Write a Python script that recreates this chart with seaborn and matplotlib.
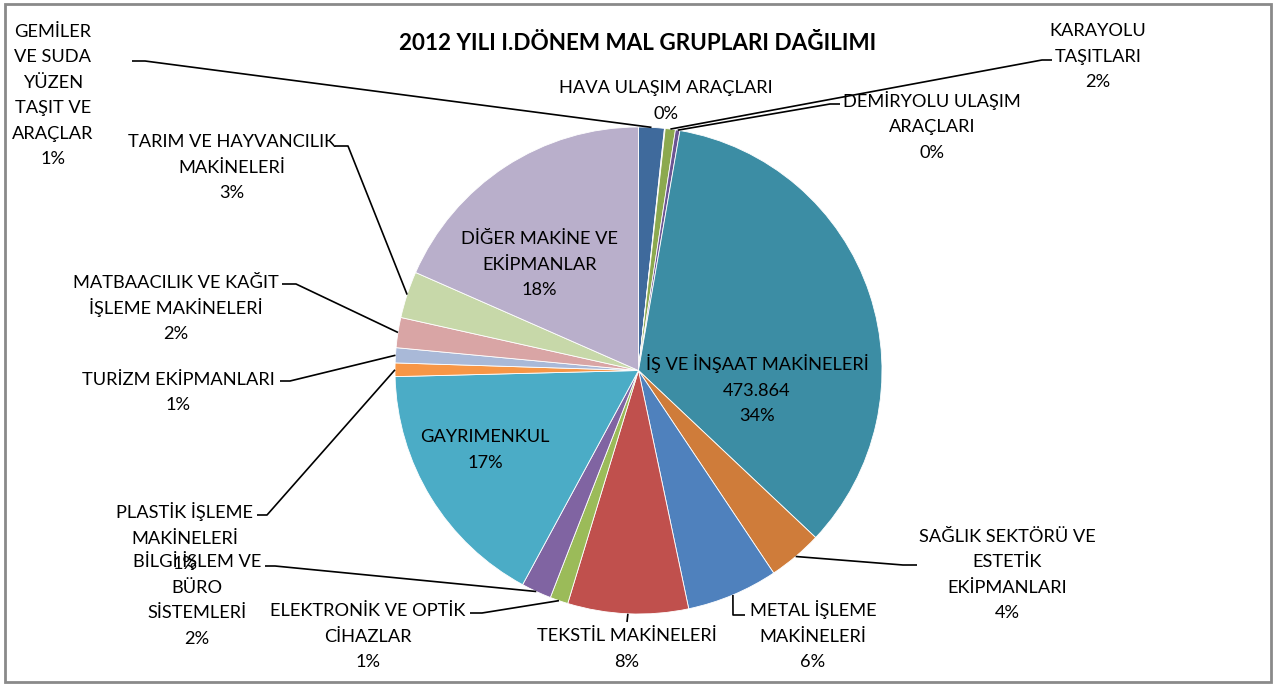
import math
import textwrap
import matplotlib
matplotlib.use("Agg")
import matplotlib.pyplot as plt
from matplotlib.patches import Rectangle
import seaborn as sns

# ---------------- data ----------------
categories = [
    "GEMİLER VE SUDA YÜZEN TAŞIT VE ARAÇLAR",
    "HAVA ULAŞIM ARAÇLARI",
    "KARAYOLU TAŞITLARI",
    "DEMİRYOLU ULAŞIM ARAÇLARI",
    "İŞ VE İNŞAAT MAKİNELERİ",
    "SAĞLIK SEKTÖRÜ VE ESTETİK EKİPMANLARI",
    "METAL İŞLEME MAKİNELERİ",
    "TEKSTİL MAKİNELERİ",
    "ELEKTRONİK VE OPTİK CİHAZLAR",
    "BİLGİ İŞLEM VE BÜRO SİSTEMLERİ",
    "GAYRIMENKUL",
    "PLASTİK İŞLEME MAKİNELERİ",
    "TURİZM EKİPMANLARI",
    "MATBAACILIK VE KAĞIT İŞLEME MAKİNELERİ",
    "TARIM VE HAYVANCILIK MAKİNELERİ",
    "DİĞER MAKİNE VE EKİPMANLAR",
]
values = [23500, 700, 9300, 4100, 473864, 49700, 83700, 110500,
          16600, 27600, 230700, 12400, 13800, 27600, 42800, 254200]
pct_labels = ["1%", "0%", "2%", "0%", "34%", "4%", "6%", "8%",
              "1%", "2%", "17%", "1%", "1%", "2%", "3%", "18%"]
show_value = [False, False, False, False, True, False, False, False,
              False, False, False, False, False, False, False, False]
colors = ["#3F6A9C", "#A5403E", "#8CA94F", "#6B5493", "#3C8DA4", "#CF7C3A",
          "#4F81BD", "#C0504D", "#9BBB59", "#8064A2", "#4BACC6", "#F79646",
          "#A9B9D8", "#D9A5A5", "#C7D8A9", "#B9AFCB"]
title = "2012 YILI I.DÖNEM MAL GRUPLARI DAĞILIMI"

# ---------------- layout (pixels, origin top-left) ----------------
W, H = 1274, 684
CX, CY, R = 638.5, 370.5, 243.5
LINE_STEP = 25.5
wrap_width = [8, 30, 10, 16, 30, 17, 12, 20, 19, 14, 30, 14, 20, 20, 20, 15]
label_pos = [(53, 94), (666, 99.5), (1098, 55), (932, 125.5), (757, 389),
             (1007, 573.5), (813, 635), (627, 647.5), (368, 635), (197, 599),
             (485, 448.5), (185, 537), (178, 391), (176, 307), (232, 166),
             (539.5, 263)]
# leader: (start, elbow) in px; end is computed on the slice rim
leaders = {
    0: ((132, 61), (145, 61)),
    2: ((1052, 60), (1042, 60)),
    3: ((840, 104), (830, 104)),
    5: ((917, 565), (903, 565)),
    6: ((745, 615), (733, 615)),
    7: ((627, 622), (627, 622)),
    8: ((470, 613), (482, 613)),
    9: ((265, 566), (275, 566)),
    11: ((257, 515), (267, 515)),
    12: ((280, 381), (290, 381)),
    13: ((282, 284), (296, 284)),
    14: ((335, 146), (348, 146)),
}

sns.set_theme(style="white")
FONT = ["Lato", "DejaVu Sans"]
plt.rcParams["font.family"] = FONT

fig = plt.figure(figsize=(W / 100, H / 100), dpi=100)
ax = fig.add_axes([0, 0, 1, 1])


def P(x, y):
    return (x, H - y)


wedges, _ = ax.pie(values, colors=colors, startangle=90, counterclock=False,
                   radius=R, center=P(CX, CY),
                   wedgeprops=dict(edgecolor="white", linewidth=0.6))
ax.set_xlim(0, W)
ax.set_ylim(0, H)
ax.set_aspect("equal")
ax.axis("off")

renderer = fig.canvas.get_renderer()


def fit_size(text, target_px, weight="normal"):
    t = ax.text(0, 0, text, fontsize=10, family=FONT, weight=weight)
    w = t.get_window_extent(renderer).width
    t.remove()
    return 10 * target_px / w


fs = fit_size("HAVA ULAŞIM ARAÇLARI", 213)
fs_title = fit_size(title, 479, weight="bold")
cap = 0.72 * fs * 100 / 72
cap_t = 0.72 * fs_title * 100 / 72

for i, name in enumerate(categories):
    lines = textwrap.wrap(name, wrap_width[i])
    if show_value[i]:
        lines.append(f"{values[i]:,}".replace(",", "."))
    lines.append(pct_labels[i])
    x0, y0 = label_pos[i]
    n = len(lines)
    for k, ln in enumerate(lines):
        yc = y0 + (k - (n - 1) / 2) * LINE_STEP
        ax.text(*P(x0, yc + cap / 2), ln, ha="center", va="baseline",
                fontsize=fs, color="black")
    if i in leaders:
        w = wedges[i]
        th = math.radians((w.theta1 + w.theta2) / 2)
        ex, ey = CX + R * math.cos(th), CY - R * math.sin(th)
        (sx, sy), (bx, by) = leaders[i]
        ax.plot([sx, bx, ex], [H - sy, H - by, H - ey], color="black",
                lw=1.2, solid_capstyle="butt")

ax.text(*P(638, 42 + cap_t / 2), title, ha="center", va="baseline",
        fontsize=fs_title, weight="bold", color="black")

ax.add_patch(Rectangle((5, H - 682), 1266, 678, fill=False,
                       edgecolor="#8a8a8a", lw=2))

fig.savefig("out.png", dpi=100)
